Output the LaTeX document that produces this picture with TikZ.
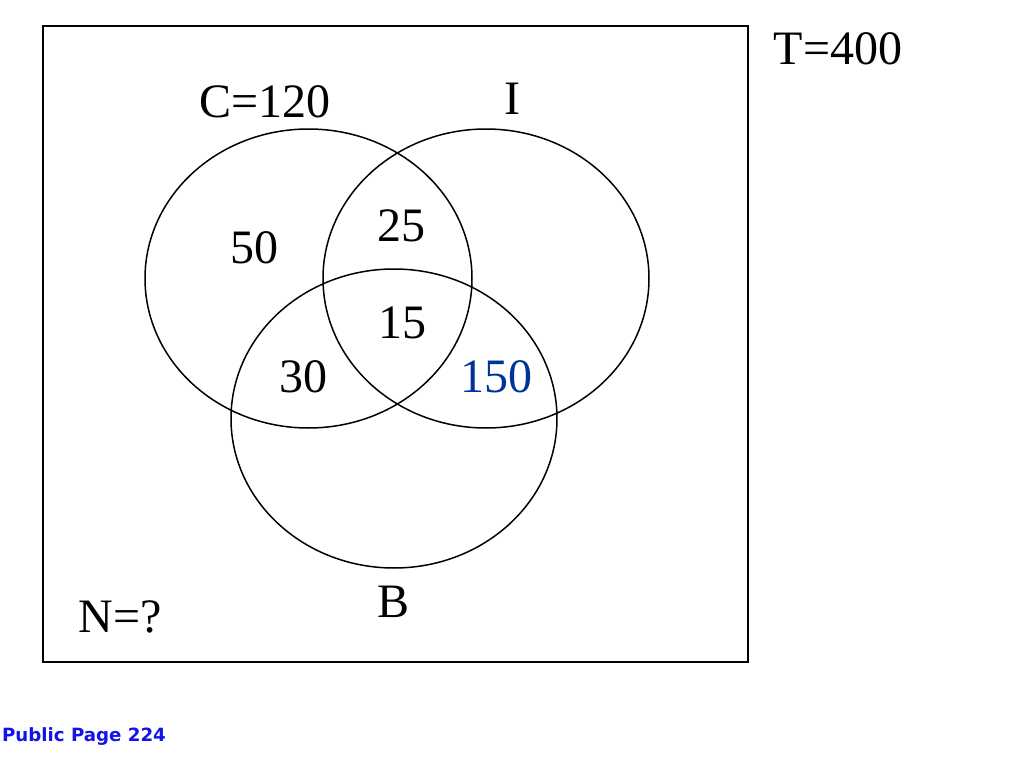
\documentclass[tikz,border=0pt]{standalone}
\usepackage{fontspec}
\usetikzlibrary{shapes.geometric}
\setmainfont{Liberation Serif}
\newfontfamily\pagefont{DejaVu Sans}
\definecolor{numblue}{RGB}{0,51,153}
\definecolor{pageblue}{RGB}{20,20,230}
\begin{document}
\begin{tikzpicture}[x=0.5pt,y=-0.5pt,
  setline/.style={draw=black,line width=0.75pt},
  lbl/.style={anchor=base,inner sep=0pt,font=\fontsize{24}{28}\selectfont}]
\useasboundingbox[fill=white] (0,0) rectangle (1014,760);
\node[setline,draw,rectangle,minimum width=352.5pt,minimum height=318pt,inner sep=0pt] (univ) at (395.5,344) {};
\node[setline,draw,ellipse,minimum width=163.5pt,minimum height=149.5pt,inner sep=0pt] (setC) at (308.5,278.5) {};
\node[setline,draw,ellipse,minimum width=163pt,minimum height=149.5pt,inner sep=0pt] (setI) at (486,278.5) {};
\node[setline,draw,ellipse,minimum width=163pt,minimum height=149.5pt,inner sep=0pt] (setB) at (394,418.5) {};
\node[lbl] (labC) at (265,117) {C=120};
\node[lbl] (labI) at (512,114) {I};
\node[lbl] (labT) at (838,64) {T=400};
\node[lbl] (n50) at (254,263) {50};
\node[lbl] (n25) at (401,241) {25};
\node[lbl] (n15) at (402,338) {15};
\node[lbl] (n30) at (303,392) {30};
\node[lbl,text=numblue] (n150) at (496,392) {150};
\node[lbl] (labB) at (394,617) {B};
\node[lbl] (labN) at (120,632) {N=?};
\node[anchor=base,inner sep=0pt,text=pageblue,font=\pagefont\bfseries\fontsize{9.1}{11}\selectfont] (page) at (84,741) {Public Page 224};
\end{tikzpicture}
\end{document}
